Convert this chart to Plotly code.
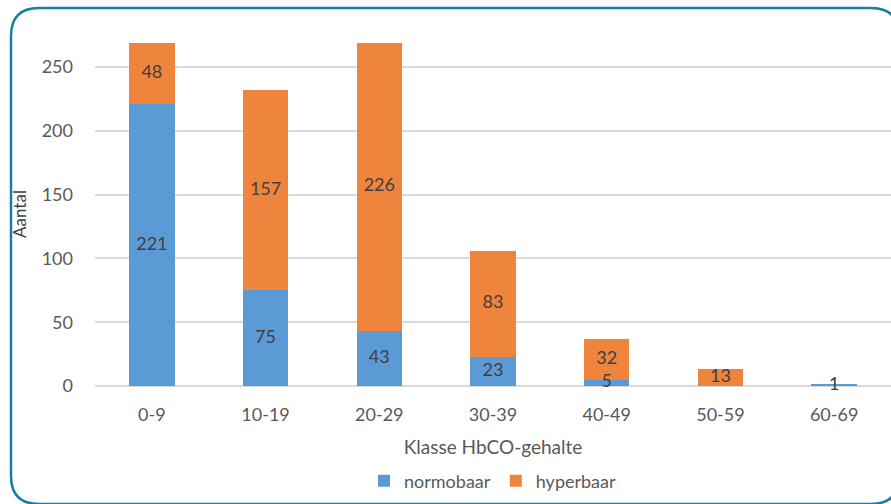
import plotly.graph_objects as go

categories = ["0-9", "10-19", "20-29", "30-39", "40-49", "50-59", "60-69"]
normobaar = [221, 75, 43, 23, 5, 0, 1]
hyperbaar = [48, 157, 226, 83, 32, 13, 0]
y_ticks = [0, 50, 100, 150, 200, 250]

BLUE = "#5B9BD5"
ORANGE = "#EF843C"
FONT = "Lato, 'Open Sans', sans-serif"

W, H = 891, 504
L, R, T, B = 95, 0, 42, 118
pw, ph = W - L - R, H - T - B


def px(x):
    return (x - L) / pw


def py(y):
    return (H - B - y) / ph


fig = go.Figure()
fig.add_trace(go.Bar(x=categories, y=normobaar, name="normobaar", marker=dict(color=BLUE, line=dict(width=0)), width=0.4))
fig.add_trace(go.Bar(x=categories, y=hyperbaar, name="hyperbaar", marker=dict(color=ORANGE, line=dict(width=0)), width=0.4))

# data labels, centred in each segment
lab_x, lab_y, lab_t = [], [], []
for c, n, h in zip(categories, normobaar, hyperbaar):
    if n:
        lab_x.append(c); lab_y.append(n / 2); lab_t.append(str(n))
    if h:
        lab_x.append(c); lab_y.append(n + h / 2); lab_t.append(str(h))
fig.add_trace(go.Scatter(x=lab_x, y=lab_y, text=lab_t, mode="text", textposition="middle center",
                         textfont=dict(size=18, color="#404040", family=FONT), showlegend=False,
                         hoverinfo="skip", cliponaxis=False))

# rounded border
x0, x1, y0, y1, r = 11, 899, 8, 504, 28
path = (f"M {px(x0 + r)},{py(y0)} L {px(x1 - r)},{py(y0)} Q {px(x1)},{py(y0)} {px(x1)},{py(y0 + r)} "
        f"L {px(x1)},{py(y1 - r)} Q {px(x1)},{py(y1)} {px(x1 - r)},{py(y1)} "
        f"L {px(x0 + r)},{py(y1)} Q {px(x0)},{py(y1)} {px(x0)},{py(y1 - r)} "
        f"L {px(x0)},{py(y0 + r)} Q {px(x0)},{py(y0)} {px(x0 + r)},{py(y0)} Z")
fig.add_shape(type="path", xref="paper", yref="paper", path=path, line=dict(color="#177FA0", width=2.5), layer="above")

fig.update_layout(
    width=W, height=H, barmode="stack", bargap=0.6,
    margin=dict(l=L, r=R, t=T, b=B),
    paper_bgcolor="white", plot_bgcolor="white",
    font=dict(family=FONT, color="#595959", size=18),
    showlegend=True,
    legend=dict(orientation="h", x=0.5, xanchor="center", y=py(481), yanchor="middle",
                font=dict(size=18, color="#595959"), traceorder="normal", itemwidth=30),
    xaxis=dict(range=[-0.5, 6.5], showgrid=False, showline=False, ticks="", tickfont=dict(size=18),
               ticklabelstandoff=16,
               title=dict(text="Klasse HbCO-gehalte", font=dict(size=19, color="#595959"), standoff=16),
               fixedrange=True),
    yaxis=dict(range=[0, ph / (319 / 250)], tickvals=y_ticks, showgrid=True, gridcolor="#D9D9D9", gridwidth=1.5,
               zeroline=True, zerolinecolor="#D9D9D9", zerolinewidth=1.5, showline=False, ticks="",
               tickfont=dict(size=18), ticklabelstandoff=21,
               title=dict(text="Aantal", font=dict(size=17, color="#404040"), standoff=10)),
)

fig.write_html("out.html")
